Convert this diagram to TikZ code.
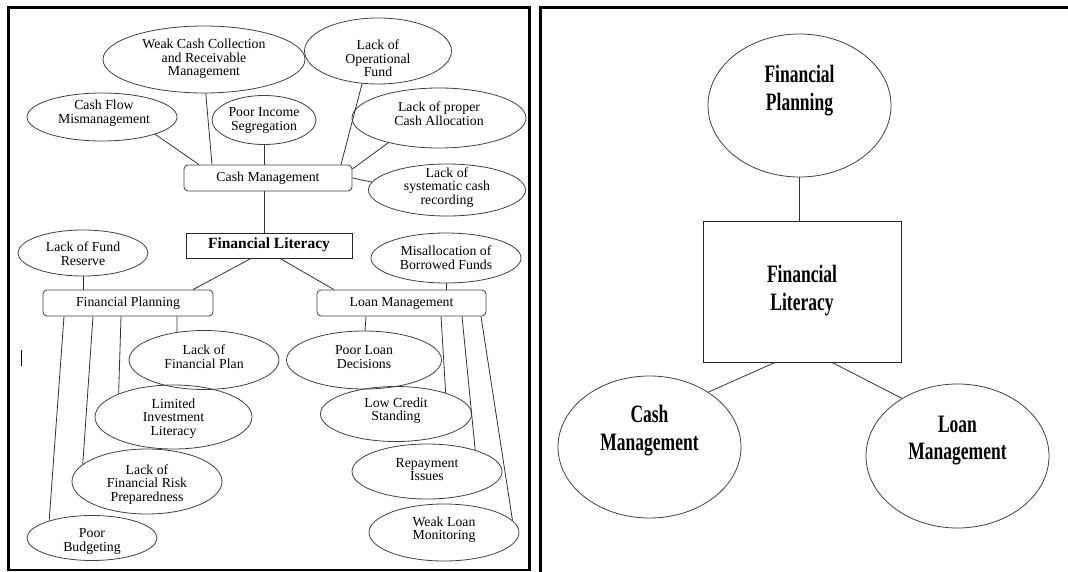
\documentclass[tikz,border=0pt]{standalone}
\usepackage{fontspec}
\setmainfont{Liberation Serif}
\newfontfamily\condbf[FakeStretch=0.7]{Liberation Serif}
\usetikzlibrary{shapes.geometric,calc}
\begin{document}
\begin{tikzpicture}[x=1pt,y=-1pt,
 ell/.style={ellipse,draw=black!75,line width=0.8pt,inner sep=0pt},
 rbox/.style={rectangle,rounded corners=4pt,draw=black!75,line width=0.8pt,inner sep=0pt},
 sbox/.style={rectangle,draw=black!85,line width=0.9pt,inner sep=0pt},
 lt/.style={font=\fontsize{13.8}{13.6}\selectfont,align=center,inner sep=0pt,yshift=-1.5pt},
 bt/.style={font=\fontsize{15.5}{16}\selectfont\bfseries,inner sep=0pt},
 rt/.style={font=\fontsize{25}{27.5}\selectfont\condbf\bfseries,align=center,inner sep=0pt,yshift=-1.5pt},
 conn/.style={draw=black!80,line width=0.8pt},
 frame/.style={line width=2.5pt}]

\useasboundingbox (0,0) rectangle (1068,572);

% panel frames
\draw[frame] (8.5,7.5) rectangle (529.5,570);
\draw[frame] (540.5,572) -- (540.5,7.5) -- (1068,7.5);
\draw[line width=0.8pt] (21,350) -- (21,366);

% ---------- left panel ----------
\node[ell,minimum width=202pt,minimum height=67pt] (wk) at (204,59.5) {};
\node[lt] (wkT) at (204,57.5) {Weak Cash Collection\\and Receivable\\Management};
\node[ell,minimum width=147pt,minimum height=66pt] (op) at (378,51) {};
\node[lt] (opT) at (378,57) {Lack of\\Operational\\Fund};
\node[ell,minimum width=150pt,minimum height=48pt] (cf) at (102,117) {};
\node[lt] (cfT) at (104,112) {Cash Flow\\Mismanagement};
\node[ell,minimum width=104pt,minimum height=49pt] (pi) at (264,120) {};
\node[lt] (piT) at (264,119) {Poor Income\\Segregation};
\node[ell,minimum width=174pt,minimum height=60pt] (pa) at (439,118) {};
\node[lt] (paT) at (439,112) {Lack of proper\\Cash Allocation};
\node[rbox,minimum width=168pt,minimum height=26pt] (cm) at (268,178) {};
\node[lt] (cmT) at (268,176.5) {Cash Management};
\node[ell,minimum width=157pt,minimum height=52pt] (sy) at (447,190) {};
\node[lt] (syT) at (447,186) {Lack of\\systematic cash\\recording};

\node[sbox,minimum width=166pt,minimum height=25pt] (fl) at (269,245.5) {};
\node[bt] (flT) at (269,245) {Financial Literacy};
\node[ell,minimum width=130pt,minimum height=46pt] (fr) at (83,253) {};
\node[lt] (frT) at (83,252) {Lack of Fund\\Reserve};
\node[ell,minimum width=150pt,minimum height=50pt] (ma) at (446,258) {};
\node[lt] (maT) at (446,256) {Misallocation of\\Borrowed Funds};
\node[rbox,minimum width=170pt,minimum height=26pt] (fp) at (128,303) {};
\node[lt] (fpT) at (128,301.5) {Financial Planning};
\node[rbox,minimum width=169pt,minimum height=26pt] (lm) at (401.5,303) {};
\node[lt] (lmT) at (401.5,301.5) {Loan Management};

\node[ell,minimum width=150pt,minimum height=59pt] (lfp) at (204,360) {};
\node[lt] (lfpT) at (204,355.5) {Lack of\\Financial Plan};
\node[ell,minimum width=155pt,minimum height=58pt] (pl) at (364,360) {};
\node[lt] (plT) at (364,355.5) {Poor Loan\\Decisions};
\node[ell,minimum width=157pt,minimum height=64pt] (li) at (173.5,417) {};
\node[lt] (liT) at (173.5,417) {Limited\\Investment\\Literacy};
\node[ell,minimum width=150pt,minimum height=65pt] (rk) at (147,481.5) {};
\node[lt] (rkT) at (147,483) {Lack of\\Financial Risk\\Preparedness};
\node[ell,minimum width=130pt,minimum height=45pt] (pb) at (92,538) {};
\node[lt] (pbT) at (92,540) {Poor\\Budgeting};
\node[ell,minimum width=151pt,minimum height=55pt] (lc) at (396,414) {};
\node[lt] (lcT) at (396,409) {Low Credit\\Standing};
\node[ell,minimum width=150pt,minimum height=55pt] (ri) at (427,471.5) {};
\node[lt] (riT) at (427,468) {Repayment\\Issues};
\node[ell,minimum width=150pt,minimum height=57pt] (wl) at (444,532.5) {};
\node[lt] (wlT) at (444,528) {Weak Loan\\Monitoring};

% connectors, left
\draw[conn] (cf.-18) -- (cm.north -| 199,0);
\draw[conn] (wk.-87) -- (cm.north -| 212,0);
\draw[conn] (pi.south) -- (cm.north -| 264,0);
\draw[conn] (op.-116) -- (cm.north -| 341,0);
\draw[conn] (pa.-154) -- (cm.east |- 0,169);
\draw[conn] (cm.east) -- (sy.174);
\draw[conn] (cm.south -| 264,0) -- (fl.north -| 264,0);
\draw[conn] (fl.south -| 251,0) -- (fp.north -| 193,0);
\draw[conn] (fl.south -| 280,0) -- (lm.north -| 334,0);
\draw[conn] (fr.south) -- (fp.north -| 83,0);
\draw[conn] (ma.south) -- (lm.north -| 446,0);
\draw[conn] (fp.south -| 177,0) -- (lfp.134);
\draw[conn] (fp.south -| 121,0) -- (li.157);
\draw[conn] (fp.south -| 93,0) -- (rk.165);
\draw[conn] (fp.south -| 64,0) -- (pb.158);
\draw[conn] (lm.south -| 366,0) -- (pl.88);
\draw[conn] (lm.south -| 441,0) -- (lc.23);
\draw[conn] (lm.south -| 462,0) -- (ri.24);
\draw[conn] (lm.south -| 481,0) -- (wl.10);

% ---------- right panel ----------
\node[ell,minimum width=183pt,minimum height=143pt] (rfp) at (799.5,105.5) {};
\node[rt] (rfpT) at (799.5,89) {Financial\\Planning};
\node[sbox,minimum width=198pt,minimum height=141pt] (rfl) at (802,291.5) {};
\node[rt] (rflT) at (802,289) {Financial\\Literacy};
\node[ell,minimum width=183pt,minimum height=142pt] (rcm) at (649.5,447) {};
\node[rt] (rcmT) at (649.5,429) {Cash\\Management};
\node[ell,minimum width=183pt,minimum height=144pt] (rlm) at (957.5,456) {};
\node[rt] (rlmT) at (957.5,439) {Loan\\Management};

\draw[conn] (rfp.south) -- (rfl.north -| rfp.south);
\draw[conn] (rfl.south -| 775,0) -- (rcm.43);
\draw[conn] (rfl.south -| 832,0) -- (rlm.134);

\end{tikzpicture}
\end{document}
